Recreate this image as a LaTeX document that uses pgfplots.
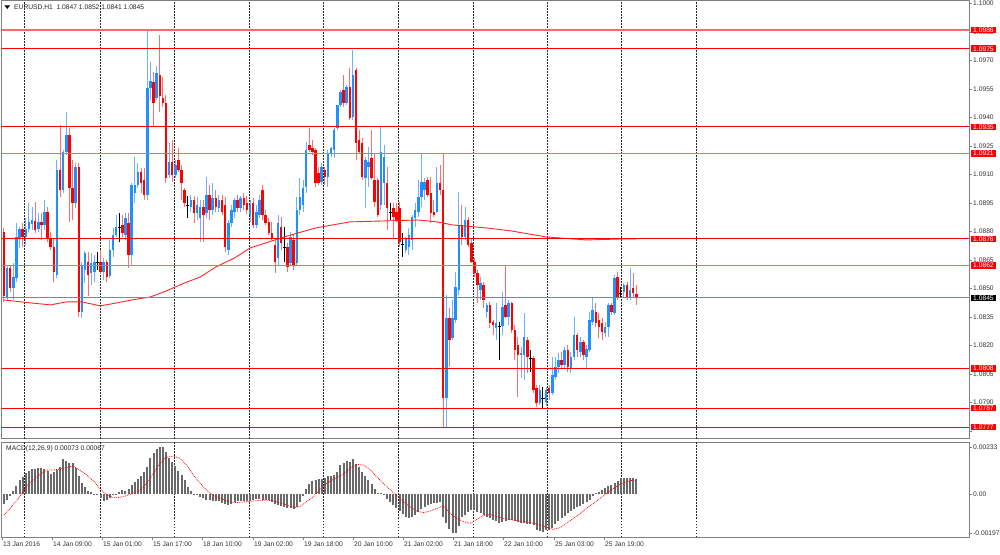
\documentclass[border=0pt]{standalone}
\usepackage{pgfplots}
\pgfplotsset{compat=1.18}
\usepackage{pgfplotstable}
\usepackage{fontspec}
\setmainfont{Liberation Sans}
\definecolor{upc}{RGB}{30,144,255}
\definecolor{upw}{RGB}{110,175,255}
\definecolor{dnc}{RGB}{255,0,0}
\definecolor{dnw}{RGB}{255,110,110}
\definecolor{frame}{RGB}{128,128,128}
\definecolor{bidline}{RGB}{119,136,153}
\definecolor{histc}{RGB}{105,105,105}
\newcommand{\tf}{\fontsize{6.7}{7.5}\selectfont}

\pgfplotstableread{
i o h l c
0 1.08797 1.08818 1.08429 1.08460
1 1.08455 1.08623 1.08439 1.08608
2 1.08608 1.08623 1.08481 1.08502
3 1.08502 1.08634 1.08439 1.08560
4 1.08555 1.08844 1.08534 1.08771
5 1.08765 1.08823 1.08713 1.08813
6 1.08813 1.08844 1.08718 1.08771
7 1.08771 1.08871 1.08729 1.08813
8 1.08813 1.08950 1.08797 1.08850
9 1.08839 1.08929 1.08808 1.08860
10 1.08855 1.08955 1.08792 1.08808
11 1.08813 1.08897 1.08797 1.08850
12 1.08850 1.08897 1.08755 1.08834
13 1.08834 1.08965 1.08808 1.08902
14 1.08902 1.08929 1.08744 1.08765
15 1.08765 1.08797 1.08702 1.08718
16 1.08718 1.08765 1.08534 1.08587
17 1.08571 1.09176 1.08555 1.09123
18 1.09123 1.09360 1.08981 1.09018
19 1.09018 1.09229 1.09002 1.09218
20 1.09218 1.09429 1.09202 1.09308
21 1.09308 1.09344 1.08850 1.09029
22 1.09029 1.09176 1.08860 1.08950
23 1.08950 1.09160 1.08923 1.09139
24 1.09139 1.09160 1.08350 1.08376
25 1.08376 1.08639 1.08344 1.08623
26 1.08597 1.08697 1.08529 1.08687
27 1.08639 1.08692 1.08460 1.08571
28 1.08581 1.08687 1.08518 1.08634
29 1.08587 1.08676 1.08534 1.08639
30 1.08639 1.08692 1.08597 1.08639
31 1.08639 1.08702 1.08576 1.08587
32 1.08587 1.08660 1.08544 1.08639
33 1.08639 1.08650 1.08534 1.08560
34 1.08565 1.08755 1.08555 1.08702
35 1.08702 1.08818 1.08665 1.08781
36 1.08781 1.08887 1.08771 1.08823
37 1.08823 1.08897 1.08744 1.08823
38 1.08834 1.08887 1.08771 1.08792
39 1.08781 1.08897 1.08755 1.08871
40 1.08844 1.08897 1.08608 1.08676
41 1.08676 1.09055 1.08623 1.09044
42 1.09002 1.09192 1.08950 1.09044
43 1.09044 1.09160 1.09029 1.09113
44 1.09113 1.09134 1.09002 1.09055
45 1.09071 1.09134 1.08965 1.08992
46 1.08992 1.09865 1.08965 1.09555
47 1.09555 1.09692 1.09492 1.09592
48 1.09587 1.09639 1.09350 1.09476
49 1.09502 1.09671 1.09492 1.09634
50 1.09623 1.09834 1.09429 1.09513
51 1.09502 1.09613 1.09455 1.09476
52 1.09476 1.09518 1.09055 1.09081
53 1.09097 1.09265 1.09081 1.09165
54 1.09165 1.09281 1.09060 1.09097
55 1.09097 1.09176 1.09081 1.09150
56 1.09176 1.09239 1.09113 1.09123
57 1.09123 1.09150 1.08965 1.09055
58 1.09018 1.09029 1.08929 1.08950
59 1.08939 1.08986 1.08871 1.08939
60 1.08929 1.08992 1.08902 1.08965
61 1.08965 1.08986 1.08844 1.08897
62 1.08897 1.08981 1.08860 1.08939
63 1.08871 1.08965 1.08744 1.08929
64 1.08929 1.08965 1.08744 1.08887
65 1.08897 1.09087 1.08871 1.08992
66 1.08992 1.09044 1.08860 1.08913
67 1.08913 1.09055 1.08887 1.08976
68 1.08976 1.09018 1.08902 1.08929
69 1.08923 1.08992 1.08902 1.08965
70 1.08965 1.08992 1.08887 1.08902
71 1.08939 1.08981 1.08692 1.08718
72 1.08702 1.08860 1.08676 1.08844
73 1.08844 1.08939 1.08823 1.08913
74 1.08902 1.08976 1.08871 1.08965
75 1.08965 1.08992 1.08902 1.08923
76 1.08923 1.08986 1.08902 1.08976
77 1.08976 1.09002 1.08913 1.08939
78 1.08950 1.08986 1.08892 1.08913
79 1.08887 1.08965 1.08850 1.08939
80 1.08950 1.08976 1.08818 1.08834
81 1.08834 1.08939 1.08818 1.08902
82 1.08887 1.08992 1.08871 1.08965
83 1.09018 1.09044 1.08860 1.08887
84 1.08887 1.08913 1.08834 1.08844
85 1.08850 1.08871 1.08781 1.08792
86 1.08792 1.08850 1.08755 1.08765
87 1.08729 1.08755 1.08581 1.08639
88 1.08660 1.08887 1.08623 1.08844
89 1.08823 1.08876 1.08702 1.08739
90 1.08718 1.08823 1.08639 1.08718
91 1.08718 1.08739 1.08587 1.08613
92 1.08634 1.08797 1.08623 1.08771
93 1.08755 1.08781 1.08597 1.08623
94 1.08634 1.08981 1.08618 1.08913
95 1.08913 1.09081 1.08887 1.08981
96 1.08939 1.09071 1.08902 1.09029
97 1.09034 1.09271 1.09002 1.09229
98 1.09255 1.09344 1.09218 1.09229
99 1.09239 1.09281 1.09202 1.09218
100 1.09229 1.09239 1.09034 1.09055
101 1.09108 1.09139 1.09044 1.09055
102 1.09060 1.09160 1.09044 1.09139
103 1.09123 1.09139 1.09044 1.09087
104 1.09087 1.09229 1.09034 1.09213
105 1.09213 1.09244 1.09192 1.09239
106 1.09229 1.09344 1.09187 1.09334
107 1.09344 1.09465 1.09334 1.09465
108 1.09465 1.09544 1.09455 1.09534
109 1.09544 1.09623 1.09455 1.09476
110 1.09476 1.09571 1.09465 1.09560
111 1.09560 1.09660 1.09386 1.09397
112 1.09402 1.09755 1.09386 1.09623
113 1.09650 1.09660 1.09176 1.09265
114 1.09281 1.09334 1.09213 1.09218
115 1.09265 1.09292 1.09071 1.09087
116 1.09081 1.09192 1.08923 1.09176
117 1.09139 1.09244 1.09034 1.09165
118 1.09187 1.09334 1.09071 1.09081
119 1.09071 1.09213 1.08929 1.08955
120 1.09071 1.09081 1.08876 1.08887
121 1.08939 1.09350 1.08913 1.09218
122 1.09055 1.09255 1.08939 1.09192
123 1.09055 1.09139 1.08808 1.08923
124 1.08902 1.08950 1.08860 1.08902
125 1.08923 1.08950 1.08765 1.08876
126 1.08902 1.08950 1.08850 1.08860
127 1.08923 1.08955 1.08718 1.08744
128 1.08729 1.08792 1.08665 1.08729
129 1.08702 1.08771 1.08687 1.08765
130 1.08718 1.08818 1.08676 1.08781
131 1.08755 1.08887 1.08702 1.08876
132 1.08871 1.08950 1.08823 1.08913
133 1.08902 1.09071 1.08876 1.08981
134 1.08981 1.09213 1.08929 1.09060
135 1.09018 1.09081 1.08965 1.09060
136 1.09071 1.09087 1.08981 1.08992
137 1.09002 1.09087 1.08844 1.08897
138 1.08902 1.08965 1.08876 1.08887
139 1.08902 1.09139 1.08897 1.09055
140 1.09055 1.09150 1.08992 1.09018
141 1.09018 1.09213 1.07771 1.07923
142 1.07923 1.08465 1.07771 1.08344
143 1.08344 1.08397 1.08086 1.08229
144 1.08239 1.08439 1.08229 1.08344
145 1.08334 1.08587 1.08318 1.08508
146 1.08492 1.09008 1.08465 1.08834
147 1.08834 1.08939 1.08729 1.08771
148 1.08771 1.08929 1.08755 1.08860
149 1.08860 1.08876 1.08718 1.08729
150 1.08739 1.08765 1.08634 1.08639
151 1.08639 1.08660 1.08560 1.08581
152 1.08581 1.08597 1.08423 1.08518
153 1.08492 1.08560 1.08439 1.08529
154 1.08518 1.08534 1.08397 1.08439
155 1.08376 1.08423 1.08344 1.08413
156 1.08413 1.08429 1.08292 1.08318
157 1.08323 1.08334 1.08255 1.08308
158 1.08292 1.08423 1.08229 1.08318
159 1.08302 1.08323 1.08123 1.08302
160 1.08302 1.08481 1.08255 1.08402
161 1.08413 1.08623 1.08344 1.08350
162 1.08350 1.08439 1.08308 1.08423
163 1.08423 1.08429 1.08265 1.08281
164 1.08281 1.08308 1.08123 1.08176
165 1.08202 1.08244 1.07929 1.08150
166 1.08150 1.08192 1.08029 1.08160
167 1.08150 1.08371 1.08018 1.08244
168 1.08229 1.08244 1.08055 1.08139
169 1.08134 1.08176 1.08060 1.08134
170 1.08134 1.08144 1.07950 1.07965
171 1.07976 1.07992 1.07876 1.07897
172 1.07897 1.07992 1.07887 1.07965
173 1.07923 1.07981 1.07871 1.07923
174 1.07902 1.07981 1.07881 1.07965
175 1.07976 1.07992 1.07913 1.07950
176 1.07950 1.08139 1.07939 1.08044
177 1.08034 1.08139 1.08018 1.08086
178 1.08086 1.08160 1.08055 1.08123
179 1.08123 1.08165 1.08081 1.08097
180 1.08097 1.08192 1.08081 1.08176
181 1.08176 1.08202 1.08060 1.08086
182 1.08081 1.08165 1.08055 1.08139
183 1.08139 1.08350 1.08123 1.08255
184 1.08255 1.08265 1.08139 1.08176
185 1.08165 1.08244 1.08139 1.08218
186 1.08218 1.08229 1.08123 1.08150
187 1.08139 1.08202 1.08081 1.08181
188 1.08176 1.08376 1.08165 1.08334
189 1.08323 1.08450 1.08308 1.08386
190 1.08376 1.08423 1.08297 1.08318
191 1.08334 1.08371 1.08239 1.08297
192 1.08318 1.08344 1.08229 1.08271
193 1.08265 1.08323 1.08244 1.08297
194 1.08297 1.08423 1.08244 1.08413
195 1.08413 1.08423 1.08360 1.08376
196 1.08371 1.08571 1.08360 1.08555
197 1.08560 1.08587 1.08439 1.08455
198 1.08476 1.08508 1.08455 1.08476
199 1.08481 1.08529 1.08455 1.08518
200 1.08518 1.08534 1.08439 1.08455
201 1.08455 1.08608 1.08439 1.08492
202 1.08502 1.08581 1.08450 1.08476
203 1.08470 1.08520 1.08410 1.08450
}\candles

\pgfplotstableread{
i v
0 -0.00050
1 -0.00028
2 -0.00010
3 0.00015
4 0.00042
5 0.00068
6 0.00087
7 0.00103
8 0.00117
9 0.00123
10 0.00127
11 0.00130
12 0.00132
13 0.00127
14 0.00117
15 0.00100
16 0.00112
17 0.00122
18 0.00137
19 0.00177
20 0.00163
21 0.00155
22 0.00153
23 0.00130
24 0.00088
25 0.00057
26 0.00033
27 0.00017
28 0.00008
29 0.00002
30 -0.00007
31 -0.00018
32 -0.00037
33 -0.00030
34 -0.00022
35 -0.00007
36 0.00002
37 0.00010
38 0.00018
39 0.00015
40 0.00027
41 0.00045
42 0.00062
43 0.00077
44 0.00092
45 0.00110
46 0.00137
47 0.00180
48 0.00205
49 0.00225
50 0.00233
51 0.00233
52 0.00210
53 0.00178
54 0.00158
55 0.00138
56 0.00117
57 0.00097
58 0.00070
59 0.00037
60 0.00015
61 0.00002
62 -0.00007
63 -0.00013
64 -0.00022
65 -0.00030
66 -0.00030
67 -0.00033
68 -0.00035
69 -0.00037
70 -0.00043
71 -0.00052
72 -0.00053
73 -0.00048
74 -0.00042
75 -0.00037
76 -0.00035
77 -0.00035
78 -0.00035
79 -0.00033
80 -0.00030
81 -0.00027
82 -0.00027
83 -0.00030
84 -0.00030
85 -0.00032
86 -0.00042
87 -0.00052
88 -0.00057
89 -0.00062
90 -0.00065
91 -0.00068
92 -0.00072
93 -0.00075
94 -0.00065
95 -0.00038
96 -0.00008
97 0.00023
98 0.00048
99 0.00065
100 0.00072
101 0.00073
102 0.00075
103 0.00082
104 0.00088
105 0.00092
106 0.00097
107 0.00112
108 0.00145
109 0.00153
110 0.00165
111 0.00162
112 0.00177
113 0.00152
114 0.00133
115 0.00112
116 0.00088
117 0.00070
118 0.00050
119 0.00025
120 0.00005
121 0.00003
122 -0.00005
123 -0.00023
124 -0.00040
125 -0.00055
126 -0.00070
127 -0.00087
128 -0.00102
129 -0.00117
130 -0.00122
131 -0.00115
132 -0.00103
133 -0.00088
134 -0.00077
135 -0.00065
136 -0.00053
137 -0.00050
138 -0.00047
139 -0.00047
140 -0.00038
141 -0.00117
142 -0.00143
143 -0.00177
144 -0.00197
145 -0.00197
146 -0.00162
147 -0.00115
148 -0.00103
149 -0.00090
150 -0.00080
151 -0.00080
152 -0.00090
153 -0.00097
154 -0.00105
155 -0.00113
156 -0.00122
157 -0.00130
158 -0.00137
159 -0.00143
160 -0.00142
161 -0.00133
162 -0.00130
163 -0.00132
164 -0.00135
165 -0.00140
166 -0.00145
167 -0.00147
168 -0.00150
169 -0.00152
170 -0.00155
171 -0.00180
172 -0.00183
173 -0.00188
174 -0.00182
175 -0.00178
176 -0.00168
177 -0.00152
178 -0.00135
179 -0.00120
180 -0.00108
181 -0.00095
182 -0.00087
183 -0.00075
184 -0.00067
185 -0.00060
186 -0.00050
187 -0.00040
188 -0.00028
189 -0.00008
190 0.00005
191 0.00012
192 0.00018
193 0.00028
194 0.00038
195 0.00045
196 0.00057
197 0.00065
198 0.00082
199 0.00082
200 0.00082
201 0.00082
202 0.00078
203 0.00073
}\macdtab

\pgfplotsset{
  candlewick/.style={draw=none, mark=none, forget plot,
    error bars/.cd, y dir=both, y explicit, error mark=none,
    error bar style={draw=#1, line width=1pt, solid}},
  candlebody/.style={draw=none, mark=none, forget plot,
    error bars/.cd, y dir=both, y explicit, error mark=none,
    error bar style={draw=#1, line width=2.5pt, solid}},
  sepgrid/.style={
    extra x ticks={6.42,30.82,54.57,78.65,102.41,126.48,150.56,174.32,198.07,222.15},
    extra x tick labels={},
    extra x tick style={grid=major, major tick length=0pt},
    major grid style={black!85, line width=0.8pt, dash pattern=on 1.5pt off 1.5pt}},
}

\begin{document}
\begin{tikzpicture}
\useasboundingbox (0,0) rectangle (1000pt,554pt);
\begin{axis}[
  at={(2pt,553pt)}, anchor=north west,
  width=967pt, height=438pt, scale only axis,
  xmin=-0.642, xmax=309.79, ymin=1.0770737, ymax=1.1001263,
  axis line style={frame, line width=1pt},
  xtick=\empty,
  ytick={1.0775,1.0790,1.0805,1.0820,1.0835,1.0850,1.0865,1.0880,1.0895,1.0910,1.0925,1.0940,1.0955,1.0970,1.0985,1.1000},
  yticklabels={,1.0790,1.0805,1.0820,1.0835,1.0850,1.0865,1.0880,1.0895,1.0910,1.0925,1.0940,1.0955,1.0970,1.0985,1.1000},
  ytick pos=right, yticklabel pos=right,
  tick align=outside, major tick length=3pt,
  tick style={frame, line width=0.6pt},
  yticklabel style={font=\tf, text=black!80, anchor=west, inner sep=1pt, xshift=0pt},
  scaled y ticks=false,
  sepgrid,
  clip mode=individual,
]
% wicks
\addplot[candlewick=upw] table[x=i, y expr={\thisrow{c}>\thisrow{o} ? 0.5*(\thisrow{h}+\thisrow{l}) : nan}, y error expr={0.5*(\thisrow{h}-\thisrow{l})}] {\candles};
\addplot[candlewick=dnw] table[x=i, y expr={\thisrow{c}<\thisrow{o} ? 0.5*(\thisrow{h}+\thisrow{l}) : nan}, y error expr={0.5*(\thisrow{h}-\thisrow{l})}] {\candles};
\addplot[candlewick=black] table[x=i, y expr={abs(\thisrow{c}-\thisrow{o})<0.000001 ? 0.5*(\thisrow{h}+\thisrow{l}) : nan}, y error expr={0.5*(\thisrow{h}-\thisrow{l})}] {\candles};
% bodies
\addplot[candlebody=upc] table[x=i, y expr={\thisrow{c}>\thisrow{o} ? 0.5*(\thisrow{c}+\thisrow{o}) : nan}, y error expr={max(0.5*abs(\thisrow{c}-\thisrow{o}),0.00002)}] {\candles};
\addplot[candlebody=dnc] table[x=i, y expr={\thisrow{c}<\thisrow{o} ? 0.5*(\thisrow{c}+\thisrow{o}) : nan}, y error expr={max(0.5*abs(\thisrow{c}-\thisrow{o}),0.00002)}] {\candles};
\addplot[only marks, mark=-, mark size=1.6pt, black, line width=0.8pt, forget plot] table[x=i, y expr={abs(\thisrow{c}-\thisrow{o})<0.000001 ? \thisrow{c} : nan}] {\candles};
% moving average
\addplot[dnc!85, line width=0.9pt, forget plot] coordinates {
(0,1.08439) (9,1.08423) (15,1.08413) (20,1.08429) (25,1.08429) (31,1.08408) (36,1.08423) (41,1.08439) (47,1.08455) (52,1.08486) (58,1.08529) (63,1.08560) (68,1.08613) (74,1.08660) (79,1.08713) (90,1.08771) (100,1.08818) (111,1.08850) (122,1.08855) (133,1.08860) (139,1.08850) (144,1.08834) (155,1.08818) (163,1.08802) (174,1.08771) (187,1.08755) (198,1.08760) (203,1.08760)};
% horizontal levels
\addplot[dnc!60, line width=1.5pt, forget plot] coordinates {(-1,1.0986) (311,1.0986)};
\addplot[dnc, line width=1pt, forget plot] coordinates {(-1,1.09761) (311,1.09761)};
\addplot[dnc, line width=1pt, forget plot] coordinates {(-1,1.0935) (311,1.0935)};
\addplot[dnc!60, line width=1.5pt, forget plot] coordinates {(-1,1.0921) (311,1.0921)};
\addplot[dnc, line width=1pt, forget plot] coordinates {(-1,1.0876) (311,1.0876)};
\addplot[dnc!60, line width=1.5pt, forget plot] coordinates {(-1,1.0862) (311,1.0862)};
\addplot[dnc, line width=1pt, forget plot] coordinates {(-1,1.0808) (311,1.0808)};
\addplot[dnc, line width=1pt, forget plot] coordinates {(-1,1.0787) (311,1.0787)};
\addplot[dnc, line width=1pt, forget plot] coordinates {(-1,1.0777) (311,1.0777)};
\addplot[bidline, line width=1pt, forget plot] coordinates {(-1,1.0845) (311,1.0845)};
\coordinate (b1) at (axis cs:309.79,1.0986);
\coordinate (b2) at (axis cs:309.79,1.09761);
\coordinate (b3) at (axis cs:309.79,1.0935);
\coordinate (b4) at (axis cs:309.79,1.0921);
\coordinate (b5) at (axis cs:309.79,1.0876);
\coordinate (b6) at (axis cs:309.79,1.0862);
\coordinate (b7) at (axis cs:309.79,1.0808);
\coordinate (b8) at (axis cs:309.79,1.0787);
\coordinate (b9) at (axis cs:309.79,1.0777);
\coordinate (bk) at (axis cs:309.79,1.0845);
\end{axis}

\begin{axis}[
  at={(2pt,112pt)}, anchor=north west,
  width=967pt, height=95pt, scale only axis,
  xmin=-0.642, xmax=309.79, ymin=-0.00215, ymax=0.0026,
  axis line style={frame, line width=1pt},
  xtick={-0.64,15.41,31.46,47.51,63.56,79.94,95.99,112.04,128.09,144.14,160.19,176.57,192.62},
  xticklabels={13 Jan 2016,14 Jan 09:00,15 Jan 01:00,15 Jan 17:00,18 Jan 10:00,19 Jan 02:00,19 Jan 18:00,20 Jan 10:00,21 Jan 02:00,21 Jan 18:00,22 Jan 10:00,25 Jan 03:00,25 Jan 19:00},
  xtick pos=left,
  ytick={-0.00197,0,0.00233},
  yticklabels={-0.00197,0.00,0.00233},
  ytick pos=right, yticklabel pos=right,
  tick align=outside, major tick length=3pt,
  tick style={frame, line width=0.6pt},
  yticklabel style={font=\tf, text=black!80, anchor=west, inner sep=1pt},
  xticklabel style={font=\tf, text=black!80, anchor=north west, inner sep=0pt, xshift=1pt, yshift=-2pt},
  scaled y ticks=false, scaled x ticks=false,
  sepgrid,
  clip mode=individual,
]
\addplot[ycomb, histc, line width=2pt, forget plot] table[x=i, y=v] {\macdtab};
\addplot[dnc, densely dotted, line width=0.8pt, forget plot] coordinates {
(0,-0.00105) (2,-0.00072) (5,-0.00013) (8,0.00053) (12,0.00103) (14,0.0012) (16,0.0012) (18,0.00125) (20,0.00132) (22,0.0014) (24,0.00123) (26.5,0.00095) (29,0.00062) (31,0.00023) (33,-0.00005) (35,-0.00018) (37,-0.00017) (39,-0.0001) (41.5,0.00003) (43.7,0.0002) (45.8,0.00053) (48,0.00103) (50,0.00153) (52,0.00183) (54.4,0.0019) (56.5,0.00178) (58.6,0.00145) (60.8,0.00095) (63,0.00053) (65,0.0002) (67,-0.00005) (69.3,-0.00022) (71.5,-0.00035) (73.6,-0.00042) (75.8,-0.00042) (78,-0.00038) (80,-0.00035) (82,-0.00032) (84,-0.0003) (86.5,-0.00035) (88.6,-0.00043) (90.7,-0.00055) (92.9,-0.00067) (95,-0.00063) (97.2,-0.00038) (99.3,-0.00013) (101.4,0.00023) (103.6,0.00053) (105.7,0.00073) (108,0.0009) (110,0.00112) (111,0.00128) (113.2,0.00148) (115.4,0.00145) (117.5,0.00123) (119.6,0.00087) (121.8,0.00053) (124,0.0002) (126,-0.00005) (128.2,-0.00038) (130.3,-0.00063) (132.5,-0.00085) (134.6,-0.00093) (136.8,-0.00085) (139,-0.00072) (141,-0.0006) (143.2,-0.00097) (145.3,-0.00122) (147.5,-0.00138) (149.6,-0.00147) (151.7,-0.00127) (154,-0.00107) (156,-0.00102) (158.2,-0.00113) (160.3,-0.00122) (162.4,-0.00127) (164.6,-0.00133) (166.7,-0.00138) (169,-0.00142) (171,-0.0015) (173,-0.0016) (175.3,-0.00172) (176.3,-0.00177) (178.5,-0.00168) (180.6,-0.00147) (182.8,-0.00122) (185,-0.00097) (187,-0.00072) (189.2,-0.00047) (191.3,-0.00022) (193.5,0.00003) (195.6,0.00028) (197.8,0.00048) (200,0.00062) (202,0.0007) (203,0.00067)};
\end{axis}

% price boxes on the right scale
\tikzset{pbox/.style={anchor=west, fill=dnc, text=white, font=\tf, inner xsep=2pt, inner ysep=1pt, text height=4.7pt, text depth=0pt}}
\node[pbox] at ([xshift=2pt]b1) {1.0986};
\node[pbox] at ([xshift=2pt]b2) {1.0975};
\node[pbox] at ([xshift=2pt]b3) {1.0935};
\node[pbox] at ([xshift=2pt]b4) {1.0921};
\node[pbox] at ([xshift=2pt]b5) {1.0876};
\node[pbox] at ([xshift=2pt]b6) {1.0862};
\node[pbox] at ([xshift=2pt]b7) {1.0808};
\node[pbox] at ([xshift=2pt]b8) {1.0787};
\node[pbox] at ([xshift=2pt]b9) {1.0777};
\node[pbox, fill=black] at ([xshift=2pt]bk) {1.0845};

% titles
\fill[black] (4.5pt,548.5pt) -- (10pt,548.5pt) -- (7.25pt,545pt) -- cycle;
\node[anchor=west, font=\tf, text=black!85, inner sep=0pt] at (14pt,546.5pt) {EURUSD,H1\ \ 1.0847 1.0852 1.0841 1.0845};
\node[anchor=west, font=\tf, text=black!85, inner sep=0pt] at (6pt,105pt) {MACD(12,26,9) 0.00073 0.00067};
\end{tikzpicture}
\end{document}
